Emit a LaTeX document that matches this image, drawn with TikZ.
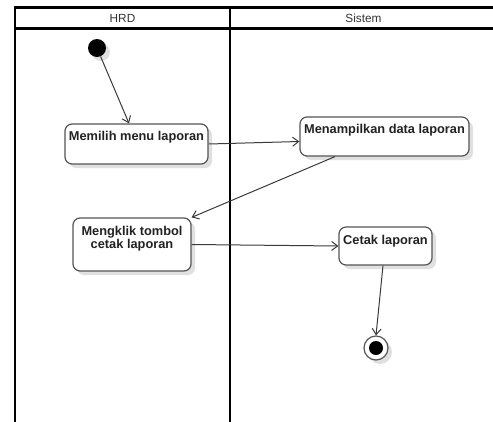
\documentclass[tikz,border=0pt]{standalone}
\usepackage{fontspec}
\setmainfont{Liberation Sans}
\usetikzlibrary{arrows.meta,shadows}
\definecolor{boxline}{HTML}{555555}
\definecolor{arrline}{HTML}{3A3A3A}
\definecolor{txt}{HTML}{222222}
\begin{document}
\begin{tikzpicture}[x=1pt,y=-1pt,
  lane/.style={line width=2.4pt,black},
  shad/.style={drop shadow={shadow xshift=4pt,shadow yshift=-4pt,fill=black!12,opacity=1}},
  actbox/.style={draw=boxline,line width=1.2pt,rounded corners=7pt,fill=white,shad,inner sep=0pt},
  acttext/.style={font=\bfseries\fontsize{12.8}{13}\selectfont,text=txt,anchor=base,inner sep=0pt},
  head/.style={font=\fontsize{11.8}{13}\selectfont,text=black!80,anchor=base,inner sep=0pt},
  flow/.style={draw=arrline,line width=1pt,-{Straight Barb[length=6pt,width=9pt,line width=1pt]}}
]
\useasboundingbox (0,0) rectangle (493,421);
% swimlanes
\draw[lane] (15,7.5) -- (497,7.5);
\draw[lane] (15,28.5) -- (497,28.5);
\draw[lane] (15,6.3) -- (15,425);
\draw[lane] (230,6.3) -- (230,425);
\node[head] (hrd) at (122.5,22) {HRD};
\node[head] (sis) at (363.5,22) {Sistem};
% start
\node[circle,fill=black,minimum size=18pt,inner sep=0pt,shad] (start) at (97,48) {};
% boxes
\node[actbox,minimum width=143pt,minimum height=40pt] (b1) at (136.5,144) {};
\node[acttext] (t1) at ([yshift=-17.5pt]b1.north) {Memilih menu laporan};
\node[actbox,minimum width=169pt,minimum height=39pt] (b2) at (384.5,136.5) {};
\node[acttext] (t2) at ([yshift=-17.5pt]b2.north) {Menampilkan data laporan};
\node[actbox,minimum width=118pt,minimum height=53pt] (b3) at (132,244.5) {};
\node[acttext] (t3a) at ([yshift=-17.7pt]b3.north) {Mengklik tombol};
\node[acttext] (t3b) at ([yshift=-30.7pt]b3.north) {cetak laporan};
\node[actbox,minimum width=93pt,minimum height=38pt] (b4) at (385.5,246) {};
\node[acttext] (t4) at ([yshift=-18pt]b4.north) {Cetak laporan};
% end
\node[circle,draw=boxline,line width=1.2pt,fill=white,minimum size=24pt,inner sep=0pt,shad] (end) at (376,348) {};
\node[circle,fill=black,minimum size=14pt,inner sep=0pt] (endin) at (end.center) {};
% flows
\draw[flow] (start) -- ([xshift=-7.5pt]b1.north);
\draw[flow] (b1.east) -- ([yshift=-5pt]b2.west);
\draw[flow] ([xshift=-49.5pt]b2.south) -- (b3.north east);
\draw[flow] (b3.east) -- (b4.west);
\draw[flow] ([xshift=-2.5pt]b4.south) -- (end.north);
\end{tikzpicture}
\end{document}
